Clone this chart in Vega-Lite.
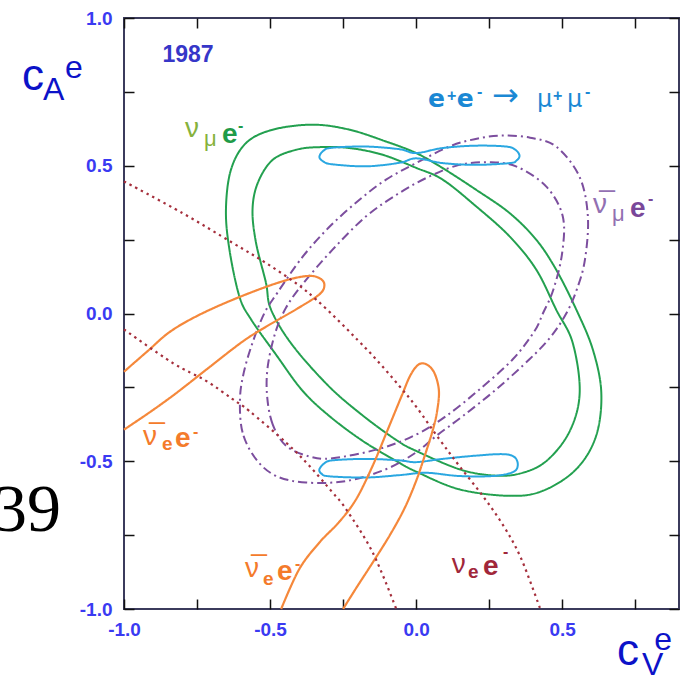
{
  "$schema": "https://vega.github.io/schema/vega-lite/v6.json",
  "width": 555,
  "height": 591,
  "autosize": {"type": "none"},
  "padding": {"left": 124, "top": 18, "right": 11, "bottom": 69},
  "background": "white",
  "config": {"view": {"stroke": "#3b3b5c", "strokeWidth": 2}},
  "resolve": {"axis": {"x": "independent", "y": "independent"}},
  "layer": [
    {
      "mark": {"type": "rule", "color": "#2e2e55", "strokeWidth": 1.6},
      "encoding": {
        "x": {"datum": 0, "type": "quantitative", "scale": {"domain": [-1, 0.9], "nice": false, "zero": false},
          "axis": {"orient": "top", "values": [-1, -0.75, -0.5, -0.25, 0, 0.25, 0.5, 0.75], "labels": false, "domain": false, "grid": false, "ticks": true, "tickSize": -10, "tickWidth": 1.5, "tickColor": "#111111", "title": null}}
      }
    },
    {
      "mark": {"type": "rule", "color": "#2e2e55", "strokeWidth": 1.6},
      "encoding": {
        "y": {"datum": 0, "type": "quantitative", "scale": {"domain": [-1, 1], "nice": false, "zero": false},
          "axis": {"orient": "right", "values": [-1, -0.75, -0.5, -0.25, 0, 0.25, 0.5, 0.75, 1], "labels": false, "domain": false, "grid": false, "ticks": true, "tickSize": -10, "tickWidth": 1.5, "tickColor": "#111111", "title": null}}
      }
    },
    {
      "data": {"values": [
        {"s":"numu","c":"g1","i":0,"x":0,"y":0.543},{"s":"numu","c":"g1","i":1,"x":-0.103,"y":0.582},{"s":"numu","c":"g1","i":2,"x":-0.228,"y":0.622},{"s":"numu","c":"g1","i":3,"x":-0.354,"y":0.639},{"s":"numu","c":"g1","i":4,"x":-0.491,"y":0.622},{"s":"numu","c":"g1","i":5,"x":-0.582,"y":0.577},{"s":"numu","c":"g1","i":6,"x":-0.634,"y":0.486},{"s":"numu","c":"g1","i":7,"x":-0.651,"y":0.351},{"s":"numu","c":"g1","i":8,"x":-0.639,"y":0.216},{"s":"numu","c":"g1","i":9,"x":-0.605,"y":0.058},{"s":"numu","c":"g1","i":10,"x":-0.565,"y":-0.02},{"s":"numu","c":"g1","i":11,"x":-0.479,"y":-0.14},{"s":"numu","c":"g1","i":12,"x":-0.39,"y":-0.26},{"s":"numu","c":"g1","i":13,"x":-0.297,"y":-0.347},{"s":"numu","c":"g1","i":14,"x":-0.183,"y":-0.431},{"s":"numu","c":"g1","i":15,"x":-0.068,"y":-0.499},{"s":"numu","c":"g1","i":16,"x":0,"y":-0.535},{"s":"numu","c":"g1","i":17,"x":0.148,"y":-0.595},{"s":"numu","c":"g1","i":18,"x":0.32,"y":-0.617},{"s":"numu","c":"g1","i":19,"x":0.434,"y":-0.6},{"s":"numu","c":"g1","i":20,"x":0.548,"y":-0.527},{"s":"numu","c":"g1","i":21,"x":0.616,"y":-0.415},{"s":"numu","c":"g1","i":22,"x":0.634,"y":-0.268},{"s":"numu","c":"g1","i":23,"x":0.605,"y":-0.122},{"s":"numu","c":"g1","i":24,"x":0.548,"y":0.014},{"s":"numu","c":"g1","i":25,"x":0.479,"y":0.149},{"s":"numu","c":"g1","i":26,"x":0.411,"y":0.25},{"s":"numu","c":"g1","i":27,"x":0.32,"y":0.34},{"s":"numu","c":"g1","i":28,"x":0.205,"y":0.419},{"s":"numu","c":"g1","i":29,"x":0.091,"y":0.492},
        {"s":"numu","c":"g2","i":0,"x":0,"y":0.493},{"s":"numu","c":"g2","i":1,"x":-0.114,"y":0.537},{"s":"numu","c":"g2","i":2,"x":-0.228,"y":0.56},{"s":"numu","c":"g2","i":3,"x":-0.331,"y":0.563},{"s":"numu","c":"g2","i":4,"x":-0.411,"y":0.554},{"s":"numu","c":"g2","i":5,"x":-0.491,"y":0.52},{"s":"numu","c":"g2","i":6,"x":-0.542,"y":0.442},{"s":"numu","c":"g2","i":7,"x":-0.56,"y":0.351},{"s":"numu","c":"g2","i":8,"x":-0.548,"y":0.239},{"s":"numu","c":"g2","i":9,"x":-0.514,"y":0.104},{"s":"numu","c":"g2","i":10,"x":-0.497,"y":0.014},{"s":"numu","c":"g2","i":11,"x":-0.425,"y":-0.105},{"s":"numu","c":"g2","i":12,"x":-0.3,"y":-0.245},{"s":"numu","c":"g2","i":13,"x":-0.183,"y":-0.345},{"s":"numu","c":"g2","i":14,"x":-0.068,"y":-0.428},{"s":"numu","c":"g2","i":15,"x":0,"y":-0.465},{"s":"numu","c":"g2","i":16,"x":0.148,"y":-0.527},{"s":"numu","c":"g2","i":17,"x":0.262,"y":-0.548},{"s":"numu","c":"g2","i":18,"x":0.354,"y":-0.542},{"s":"numu","c":"g2","i":19,"x":0.445,"y":-0.5},{"s":"numu","c":"g2","i":20,"x":0.525,"y":-0.4},{"s":"numu","c":"g2","i":21,"x":0.56,"y":-0.268},{"s":"numu","c":"g2","i":22,"x":0.536,"y":-0.099},{"s":"numu","c":"g2","i":23,"x":0.479,"y":0.014},{"s":"numu","c":"g2","i":24,"x":0.411,"y":0.149},{"s":"numu","c":"g2","i":25,"x":0.32,"y":0.261},{"s":"numu","c":"g2","i":26,"x":0.205,"y":0.363},{"s":"numu","c":"g2","i":27,"x":0.091,"y":0.453},
        {"s":"numubar","c":"p1","i":0,"x":-0.548,"y":-0.493},{"s":"numubar","c":"p1","i":1,"x":-0.594,"y":-0.403},{"s":"numubar","c":"p1","i":2,"x":-0.603,"y":-0.291},{"s":"numubar","c":"p1","i":3,"x":-0.59,"y":-0.2},{"s":"numubar","c":"p1","i":4,"x":-0.56,"y":-0.099},{"s":"numubar","c":"p1","i":5,"x":-0.52,"y":0},{"s":"numubar","c":"p1","i":6,"x":-0.475,"y":0.07},{"s":"numubar","c":"p1","i":7,"x":-0.39,"y":0.19},{"s":"numubar","c":"p1","i":8,"x":-0.3,"y":0.29},{"s":"numubar","c":"p1","i":9,"x":-0.2,"y":0.38},{"s":"numubar","c":"p1","i":10,"x":-0.103,"y":0.453},{"s":"numubar","c":"p1","i":11,"x":0,"y":0.509},{"s":"numubar","c":"p1","i":12,"x":0.114,"y":0.565},{"s":"numubar","c":"p1","i":13,"x":0.2,"y":0.59},{"s":"numubar","c":"p1","i":14,"x":0.29,"y":0.602},{"s":"numubar","c":"p1","i":15,"x":0.39,"y":0.595},{"s":"numubar","c":"p1","i":16,"x":0.479,"y":0.565},{"s":"numubar","c":"p1","i":17,"x":0.559,"y":0.464},{"s":"numubar","c":"p1","i":18,"x":0.588,"y":0.329},{"s":"numubar","c":"p1","i":19,"x":0.578,"y":0.182},{"s":"numubar","c":"p1","i":20,"x":0.55,"y":0.081},{"s":"numubar","c":"p1","i":21,"x":0.514,"y":0},{"s":"numubar","c":"p1","i":22,"x":0.46,"y":-0.08},{"s":"numubar","c":"p1","i":23,"x":0.388,"y":-0.155},{"s":"numubar","c":"p1","i":24,"x":0.274,"y":-0.257},{"s":"numubar","c":"p1","i":25,"x":0.16,"y":-0.347},{"s":"numubar","c":"p1","i":26,"x":0.068,"y":-0.415},{"s":"numubar","c":"p1","i":27,"x":0,"y":-0.47},{"s":"numubar","c":"p1","i":28,"x":-0.103,"y":-0.527},{"s":"numubar","c":"p1","i":29,"x":-0.24,"y":-0.567},{"s":"numubar","c":"p1","i":30,"x":-0.377,"y":-0.572},{"s":"numubar","c":"p1","i":31,"x":-0.479,"y":-0.55},
        {"s":"numubar","c":"p2","i":0,"x":-0.445,"y":-0.448},{"s":"numubar","c":"p2","i":1,"x":-0.491,"y":-0.375},{"s":"numubar","c":"p2","i":2,"x":-0.51,"y":-0.28},{"s":"numubar","c":"p2","i":3,"x":-0.508,"y":-0.18},{"s":"numubar","c":"p2","i":4,"x":-0.482,"y":-0.065},{"s":"numubar","c":"p2","i":5,"x":-0.445,"y":0.02},{"s":"numubar","c":"p2","i":6,"x":-0.388,"y":0.1},{"s":"numubar","c":"p2","i":7,"x":-0.286,"y":0.216},{"s":"numubar","c":"p2","i":8,"x":-0.171,"y":0.329},{"s":"numubar","c":"p2","i":9,"x":-0.057,"y":0.408},{"s":"numubar","c":"p2","i":10,"x":0.046,"y":0.464},{"s":"numubar","c":"p2","i":11,"x":0.148,"y":0.503},{"s":"numubar","c":"p2","i":12,"x":0.25,"y":0.512},{"s":"numubar","c":"p2","i":13,"x":0.342,"y":0.498},{"s":"numubar","c":"p2","i":14,"x":0.445,"y":0.43},{"s":"numubar","c":"p2","i":15,"x":0.502,"y":0.329},{"s":"numubar","c":"p2","i":16,"x":0.5,"y":0.205},{"s":"numubar","c":"p2","i":17,"x":0.47,"y":0.081},{"s":"numubar","c":"p2","i":18,"x":0.434,"y":0},{"s":"numubar","c":"p2","i":19,"x":0.405,"y":-0.06},{"s":"numubar","c":"p2","i":20,"x":0.331,"y":-0.155},{"s":"numubar","c":"p2","i":21,"x":0.217,"y":-0.257},{"s":"numubar","c":"p2","i":22,"x":0.103,"y":-0.347},{"s":"numubar","c":"p2","i":23,"x":0,"y":-0.41},{"s":"numubar","c":"p2","i":24,"x":-0.126,"y":-0.458},{"s":"numubar","c":"p2","i":25,"x":-0.286,"y":-0.49},{"s":"numubar","c":"p2","i":26,"x":-0.365,"y":-0.484},
        {"s":"ee","c":"b1","i":0,"x":-0.331,"y":0.53},{"s":"ee","c":"b1","i":1,"x":-0.317,"y":0.551},{"s":"ee","c":"b1","i":2,"x":-0.287,"y":0.561},{"s":"ee","c":"b1","i":3,"x":-0.171,"y":0.565},{"s":"ee","c":"b1","i":4,"x":-0.057,"y":0.556},{"s":"ee","c":"b1","i":5,"x":0,"y":0.543},{"s":"ee","c":"b1","i":6,"x":0.091,"y":0.56},{"s":"ee","c":"b1","i":7,"x":0.205,"y":0.568},{"s":"ee","c":"b1","i":8,"x":0.308,"y":0.565},{"s":"ee","c":"b1","i":9,"x":0.34,"y":0.554},{"s":"ee","c":"b1","i":10,"x":0.354,"y":0.534},{"s":"ee","c":"b1","i":11,"x":0.343,"y":0.517},{"s":"ee","c":"b1","i":12,"x":0.32,"y":0.509},{"s":"ee","c":"b1","i":13,"x":0.205,"y":0.503},{"s":"ee","c":"b1","i":14,"x":0.091,"y":0.509},{"s":"ee","c":"b1","i":15,"x":0,"y":0.525},{"s":"ee","c":"b1","i":16,"x":-0.057,"y":0.51},{"s":"ee","c":"b1","i":17,"x":-0.171,"y":0.498},{"s":"ee","c":"b1","i":18,"x":-0.287,"y":0.505},{"s":"ee","c":"b1","i":19,"x":-0.317,"y":0.514},
        {"s":"ee","c":"b2","i":0,"x":-0.331,"y":-0.527},{"s":"ee","c":"b2","i":1,"x":-0.314,"y":-0.507},{"s":"ee","c":"b2","i":2,"x":-0.286,"y":-0.497},{"s":"ee","c":"b2","i":3,"x":-0.171,"y":-0.492},{"s":"ee","c":"b2","i":4,"x":-0.057,"y":-0.497},{"s":"ee","c":"b2","i":5,"x":0,"y":-0.503},{"s":"ee","c":"b2","i":6,"x":0.091,"y":-0.492},{"s":"ee","c":"b2","i":7,"x":0.205,"y":-0.481},{"s":"ee","c":"b2","i":8,"x":0.297,"y":-0.476},{"s":"ee","c":"b2","i":9,"x":0.337,"y":-0.486},{"s":"ee","c":"b2","i":10,"x":0.348,"y":-0.514},{"s":"ee","c":"b2","i":11,"x":0.331,"y":-0.537},{"s":"ee","c":"b2","i":12,"x":0.262,"y":-0.55},{"s":"ee","c":"b2","i":13,"x":0.148,"y":-0.55},{"s":"ee","c":"b2","i":14,"x":0.034,"y":-0.539},{"s":"ee","c":"b2","i":15,"x":-0.057,"y":-0.547},{"s":"ee","c":"b2","i":16,"x":-0.171,"y":-0.555},{"s":"ee","c":"b2","i":17,"x":-0.297,"y":-0.551},{"s":"ee","c":"b2","i":18,"x":-0.324,"y":-0.542}
      ]},
      "mark": {"type": "line", "interpolate": "cardinal-closed", "strokeWidth": 2},
      "encoding": {
        "x": {"field": "x", "type": "quantitative", "scale": {"domain": [-1, 0.9], "nice": false, "zero": false},
          "axis": {"orient": "bottom", "values": [-1, -0.75, -0.5, -0.25, 0, 0.25, 0.5, 0.75], "labelExpr": "datum.value == -1 ? '-1.0' : datum.value == -0.5 ? '-0.5' : datum.value == 0 ? '0.0' : datum.value == 0.5 ? '0.5' : datum.value == 1 ? '1.0' : ''", "domain": false, "grid": false, "ticks": true, "tickSize": -10, "tickWidth": 1.5, "tickColor": "#111111", "labelPadding": 21, "labelFont": "Liberation Sans", "labelFontSize": 19, "labelFontWeight": "bold", "labelColor": "#3a3af2", "labelFlush": false, "labelOverlap": false, "title": null}},
        "y": {"field": "y", "type": "quantitative", "scale": {"domain": [-1, 1], "nice": false, "zero": false},
          "axis": {"orient": "left", "values": [-1, -0.75, -0.5, -0.25, 0, 0.25, 0.5, 0.75, 1], "labelExpr": "datum.value == -1 ? '-1.0' : datum.value == -0.5 ? '-0.5' : datum.value == 0 ? '0.0' : datum.value == 0.5 ? '0.5' : datum.value == 1 ? '1.0' : ''", "domain": false, "grid": false, "ticks": true, "tickSize": -10, "tickWidth": 1.5, "tickColor": "#111111", "labelPadding": 22, "labelFont": "Liberation Sans", "labelFontSize": 19, "labelFontWeight": "bold", "labelColor": "#3a3af2", "labelFlush": false, "labelOverlap": false, "title": null}},
        "color": {"field": "s", "type": "nominal", "legend": null,
          "scale": {"domain": ["numu","numubar","ee","nuebar","nue","t_numu","t_numu_g","t_numubar","t_numubar_g","t_nuebar","t_nue","t_ee","t_year","t_axis","t_page"],
                    "range": ["#23a04f","#7c4e9e","#2aa7e1","#f5883b","#a52f3c","#1f9b49","#86b23c","#794799","#9270b2","#f47b2b","#a1273a","#1b88d4","#3636c8","#0c12c8","#000000"]}},
        "strokeDash": {"field": "s", "type": "nominal", "legend": null,
          "scale": {"domain": ["numu","numubar","ee","nuebar","nue"], "range": [[1,0],[9,4,2,4],[1,0],[1,0],[2.4,4]]}},
        "detail": {"field": "c"},
        "order": {"field": "i", "type": "quantitative"}
      }
    },
    {
      "data": {"values": [
        {"s":"nuebar","c":"o1","i":0,"x":-1,"y":-0.197},{"s":"nuebar","c":"o1","i":1,"x":-0.92,"y":-0.128},{"s":"nuebar","c":"o1","i":2,"x":-0.84,"y":-0.06},{"s":"nuebar","c":"o1","i":3,"x":-0.733,"y":0},{"s":"nuebar","c":"o1","i":4,"x":-0.594,"y":0.06},{"s":"nuebar","c":"o1","i":5,"x":-0.457,"y":0.109},{"s":"nuebar","c":"o1","i":6,"x":-0.37,"y":0.127},{"s":"nuebar","c":"o1","i":7,"x":-0.328,"y":0.118},{"s":"nuebar","c":"o1","i":8,"x":-0.314,"y":0.095},{"s":"nuebar","c":"o1","i":9,"x":-0.332,"y":0.064},{"s":"nuebar","c":"o1","i":10,"x":-0.411,"y":0.014},{"s":"nuebar","c":"o1","i":11,"x":-0.514,"y":-0.045},{"s":"nuebar","c":"o1","i":12,"x":-0.594,"y":-0.095},{"s":"nuebar","c":"o1","i":13,"x":-0.708,"y":-0.182},{"s":"nuebar","c":"o1","i":14,"x":-0.822,"y":-0.27},{"s":"nuebar","c":"o1","i":15,"x":-0.91,"y":-0.333},{"s":"nuebar","c":"o1","i":16,"x":-1,"y":-0.393},
        {"s":"nuebar","c":"o2","i":0,"x":-0.462,"y":-1},{"s":"nuebar","c":"o2","i":1,"x":-0.4,"y":-0.865},{"s":"nuebar","c":"o2","i":2,"x":-0.331,"y":-0.775},{"s":"nuebar","c":"o2","i":3,"x":-0.263,"y":-0.705},{"s":"nuebar","c":"o2","i":4,"x":-0.205,"y":-0.628},{"s":"nuebar","c":"o2","i":5,"x":-0.149,"y":-0.516},{"s":"nuebar","c":"o2","i":6,"x":-0.1,"y":-0.4},{"s":"nuebar","c":"o2","i":7,"x":-0.05,"y":-0.28},{"s":"nuebar","c":"o2","i":8,"x":-0.02,"y":-0.21},{"s":"nuebar","c":"o2","i":9,"x":0.008,"y":-0.173},{"s":"nuebar","c":"o2","i":10,"x":0.035,"y":-0.172},{"s":"nuebar","c":"o2","i":11,"x":0.062,"y":-0.2},{"s":"nuebar","c":"o2","i":12,"x":0.078,"y":-0.26},{"s":"nuebar","c":"o2","i":13,"x":0.072,"y":-0.33},{"s":"nuebar","c":"o2","i":14,"x":0.057,"y":-0.395},{"s":"nuebar","c":"o2","i":15,"x":0.03,"y":-0.48},{"s":"nuebar","c":"o2","i":16,"x":0,"y":-0.567},{"s":"nuebar","c":"o2","i":17,"x":-0.04,"y":-0.66},{"s":"nuebar","c":"o2","i":18,"x":-0.091,"y":-0.752},{"s":"nuebar","c":"o2","i":19,"x":-0.15,"y":-0.845},{"s":"nuebar","c":"o2","i":20,"x":-0.205,"y":-0.929},{"s":"nuebar","c":"o2","i":21,"x":-0.25,"y":-1},
        {"s":"nue","c":"r1","i":0,"x":-1,"y":0.447},{"s":"nue","c":"r1","i":1,"x":-0.8,"y":0.34},{"s":"nue","c":"r1","i":2,"x":-0.628,"y":0.239},{"s":"nue","c":"r1","i":3,"x":-0.514,"y":0.171},{"s":"nue","c":"r1","i":4,"x":-0.405,"y":0.098},{"s":"nue","c":"r1","i":5,"x":-0.342,"y":0.047},{"s":"nue","c":"r1","i":6,"x":-0.27,"y":-0.02},{"s":"nue","c":"r1","i":7,"x":-0.2,"y":-0.09},{"s":"nue","c":"r1","i":8,"x":-0.137,"y":-0.155},{"s":"nue","c":"r1","i":9,"x":-0.057,"y":-0.246},{"s":"nue","c":"r1","i":10,"x":0,"y":-0.315},{"s":"nue","c":"r1","i":11,"x":0.08,"y":-0.426},{"s":"nue","c":"r1","i":12,"x":0.148,"y":-0.516},{"s":"nue","c":"r1","i":13,"x":0.228,"y":-0.617},{"s":"nue","c":"r1","i":14,"x":0.3,"y":-0.72},{"s":"nue","c":"r1","i":15,"x":0.36,"y":-0.83},{"s":"nue","c":"r1","i":16,"x":0.425,"y":-1},
        {"s":"nue","c":"r2","i":0,"x":-1,"y":-0.054},{"s":"nue","c":"r2","i":1,"x":-0.834,"y":-0.167},{"s":"nue","c":"r2","i":2,"x":-0.719,"y":-0.228},{"s":"nue","c":"r2","i":3,"x":-0.628,"y":-0.29},{"s":"nue","c":"r2","i":4,"x":-0.571,"y":-0.33},{"s":"nue","c":"r2","i":5,"x":-0.445,"y":-0.437},{"s":"nue","c":"r2","i":6,"x":-0.365,"y":-0.516},{"s":"nue","c":"r2","i":7,"x":-0.286,"y":-0.606},{"s":"nue","c":"r2","i":8,"x":-0.24,"y":-0.662},{"s":"nue","c":"r2","i":9,"x":-0.149,"y":-0.808},{"s":"nue","c":"r2","i":10,"x":-0.068,"y":-1}
      ]},
      "mark": {"type": "line", "interpolate": "cardinal", "strokeWidth": 2.2},
      "encoding": {
        "x": {"field": "x", "type": "quantitative", "scale": {"domain": [-1, 0.9], "nice": false, "zero": false}, "axis": null},
        "y": {"field": "y", "type": "quantitative", "scale": {"domain": [-1, 1], "nice": false, "zero": false}, "axis": null},
        "color": {"field": "s", "type": "nominal", "legend": null,
          "scale": {"domain": ["numu","numubar","ee","nuebar","nue","t_numu","t_numu_g","t_numubar","t_numubar_g","t_nuebar","t_nue","t_ee","t_year","t_axis","t_page"],
                    "range": ["#23a04f","#7c4e9e","#2aa7e1","#f5883b","#a52f3c","#1f9b49","#86b23c","#794799","#9270b2","#f47b2b","#a1273a","#1b88d4","#3636c8","#0c12c8","#000000"]}},
        "strokeDash": {"field": "s", "type": "nominal", "legend": null,
          "scale": {"domain": ["numu","numubar","ee","nuebar","nue"], "range": [[1,0],[9,4,2,4],[1,0],[1,0],[2.4,4]]}},
        "detail": {"field": "c"},
        "order": {"field": "i", "type": "quantitative"}
      }
    },
    {
      "data": {"values": [
        {"t":"c","x":-1.3492,"y":0.7563,"k":"t_axis"},
        {"t":"c","x":0.6878,"y":-1.1895,"k":"t_axis"}
      ]},
      "mark": {"type": "text", "font": "Liberation Sans", "fontSize": 44, "align": "left", "baseline": "alphabetic"},
      "encoding": {
        "x": {"field": "x", "type": "quantitative", "scale": {"domain": [-1, 0.9], "nice": false, "zero": false}, "axis": null},
        "y": {"field": "y", "type": "quantitative", "scale": {"domain": [-1, 1], "nice": false, "zero": false}, "axis": null},
        "text": {"field": "t"},
        "color": {"field": "k", "type": "nominal", "legend": null,
          "scale": {"domain": ["numu","numubar","ee","nuebar","nue","t_numu","t_numu_g","t_numubar","t_numubar_g","t_nuebar","t_nue","t_ee","t_year","t_axis","t_page"],
                    "range": ["#23a04f","#7c4e9e","#2aa7e1","#f5883b","#a52f3c","#1f9b49","#86b23c","#794799","#9270b2","#f47b2b","#a1273a","#1b88d4","#3636c8","#0c12c8","#000000"]}}
      }
    },
    {
      "data": {"values": [
        {"t":"A","x":-1.2773,"y":0.7225,"k":"t_axis"},
        {"t":"e","x":-1.202,"y":0.797,"k":"t_axis"},
        {"t":"V","x":0.7734,"y":-1.2234,"k":"t_axis"},
        {"t":"e","x":0.815,"y":-1.1388,"k":"t_axis"}
      ]},
      "mark": {"type": "text", "font": "Liberation Sans", "fontSize": 32, "align": "left", "baseline": "alphabetic"},
      "encoding": {
        "x": {"field": "x", "type": "quantitative", "scale": {"domain": [-1, 0.9], "nice": false, "zero": false}, "axis": null},
        "y": {"field": "y", "type": "quantitative", "scale": {"domain": [-1, 1], "nice": false, "zero": false}, "axis": null},
        "text": {"field": "t"},
        "color": {"field": "k", "type": "nominal", "legend": null,
          "scale": {"domain": ["numu","numubar","ee","nuebar","nue","t_numu","t_numu_g","t_numubar","t_numubar_g","t_nuebar","t_nue","t_ee","t_year","t_axis","t_page"],
                    "range": ["#23a04f","#7c4e9e","#2aa7e1","#f5883b","#a52f3c","#1f9b49","#86b23c","#794799","#9270b2","#f47b2b","#a1273a","#1b88d4","#3636c8","#0c12c8","#000000"]}}
      }
    },
    {
      "data": {"values": [
        {"t":"\u03bd","x":-0.7912,"y":0.5973,"k":"t_numu_g"},
        {"t":"\u03bd\u0305","x":0.6057,"y":0.3401,"k":"t_numubar_g"},
        {"t":"\u03bd\u0305","x":-0.9346,"y":-0.445,"k":"t_nuebar"},
        {"t":"\u03bd\u0305","x":-0.5858,"y":-0.8917,"k":"t_nuebar"},
        {"t":"\u03bd","x":0.1219,"y":-0.8782,"k":"t_nue"}
      ]},
      "mark": {"type": "text", "font": "Liberation Sans", "fontSize": 28, "align": "left", "baseline": "alphabetic"},
      "encoding": {
        "x": {"field": "x", "type": "quantitative", "scale": {"domain": [-1, 0.9], "nice": false, "zero": false}, "axis": null},
        "y": {"field": "y", "type": "quantitative", "scale": {"domain": [-1, 1], "nice": false, "zero": false}, "axis": null},
        "text": {"field": "t"},
        "color": {"field": "k", "type": "nominal", "legend": null,
          "scale": {"domain": ["numu","numubar","ee","nuebar","nue","t_numu","t_numu_g","t_numubar","t_numubar_g","t_nuebar","t_nue","t_ee","t_year","t_axis","t_page"],
                    "range": ["#23a04f","#7c4e9e","#2aa7e1","#f5883b","#a52f3c","#1f9b49","#86b23c","#794799","#9270b2","#f47b2b","#a1273a","#1b88d4","#3636c8","#0c12c8","#000000"]}}
      }
    },
    {
      "data": {"values": [
        {"t":"\u03bc","x":-0.7264,"y":0.5668,"k":"t_numu_g"},
        {"t":"\u03bc","x":0.6707,"y":0.313,"k":"t_numubar_g"}
      ]},
      "mark": {"type": "text", "font": "Liberation Sans", "fontSize": 22, "align": "left", "baseline": "alphabetic"},
      "encoding": {
        "x": {"field": "x", "type": "quantitative", "scale": {"domain": [-1, 0.9], "nice": false, "zero": false}, "axis": null},
        "y": {"field": "y", "type": "quantitative", "scale": {"domain": [-1, 1], "nice": false, "zero": false}, "axis": null},
        "text": {"field": "t"},
        "color": {"field": "k", "type": "nominal", "legend": null,
          "scale": {"domain": ["numu","numubar","ee","nuebar","nue","t_numu","t_numu_g","t_numubar","t_numubar_g","t_nuebar","t_nue","t_ee","t_year","t_axis","t_page"],
                    "range": ["#23a04f","#7c4e9e","#2aa7e1","#f5883b","#a52f3c","#1f9b49","#86b23c","#794799","#9270b2","#f47b2b","#a1273a","#1b88d4","#3636c8","#0c12c8","#000000"]}}
      }
    },
    {
      "data": {"values": [
        {"t":"e","x":-0.8699,"y":-0.4619,"k":"t_nuebar"},
        {"t":"e","x":-0.5241,"y":-0.9188,"k":"t_nuebar"},
        {"t":"e","x":0.1777,"y":-0.8951,"k":"t_nue"}
      ]},
      "mark": {"type": "text", "font": "Liberation Sans", "fontSize": 19, "fontWeight": "bold", "align": "left", "baseline": "alphabetic"},
      "encoding": {
        "x": {"field": "x", "type": "quantitative", "scale": {"domain": [-1, 0.9], "nice": false, "zero": false}, "axis": null},
        "y": {"field": "y", "type": "quantitative", "scale": {"domain": [-1, 1], "nice": false, "zero": false}, "axis": null},
        "text": {"field": "t"},
        "color": {"field": "k", "type": "nominal", "legend": null,
          "scale": {"domain": ["numu","numubar","ee","nuebar","nue","t_numu","t_numu_g","t_numubar","t_numubar_g","t_nuebar","t_nue","t_ee","t_year","t_axis","t_page"],
                    "range": ["#23a04f","#7c4e9e","#2aa7e1","#f5883b","#a52f3c","#1f9b49","#86b23c","#794799","#9270b2","#f47b2b","#a1273a","#1b88d4","#3636c8","#0c12c8","#000000"]}}
      }
    },
    {
      "data": {"values": [
        {"t":"e","x":-0.6648,"y":0.577,"k":"t_numu"},
        {"t":"e","x":0.7323,"y":0.3266,"k":"t_numubar"},
        {"t":"e","x":-0.8254,"y":-0.4518,"k":"t_nuebar"},
        {"t":"e","x":-0.4762,"y":-0.9019,"k":"t_nuebar"},
        {"t":"e","x":0.229,"y":-0.8849,"k":"t_nue"}
      ]},
      "mark": {"type": "text", "font": "Liberation Sans", "fontSize": 28, "fontWeight": "bold", "align": "left", "baseline": "alphabetic"},
      "encoding": {
        "x": {"field": "x", "type": "quantitative", "scale": {"domain": [-1, 0.9], "nice": false, "zero": false}, "axis": null},
        "y": {"field": "y", "type": "quantitative", "scale": {"domain": [-1, 1], "nice": false, "zero": false}, "axis": null},
        "text": {"field": "t"},
        "color": {"field": "k", "type": "nominal", "legend": null,
          "scale": {"domain": ["numu","numubar","ee","nuebar","nue","t_numu","t_numu_g","t_numubar","t_numubar_g","t_nuebar","t_nue","t_ee","t_year","t_axis","t_page"],
                    "range": ["#23a04f","#7c4e9e","#2aa7e1","#f5883b","#a52f3c","#1f9b49","#86b23c","#794799","#9270b2","#f47b2b","#a1273a","#1b88d4","#3636c8","#0c12c8","#000000"]}}
      }
    },
    {
      "data": {"values": [
        {"t":"-","x":-0.61,"y":0.6176,"k":"t_numu"},
        {"t":"-","x":0.7939,"y":0.3706,"k":"t_numubar"},
        {"t":"-","x":-0.7638,"y":-0.4196,"k":"t_nuebar"},
        {"t":"-","x":-0.4146,"y":-0.8663,"k":"t_nuebar"},
        {"t":"-","x":0.2975,"y":-0.8257,"k":"t_nue"},
        {"t":"+","x":0.1061,"y":0.7208,"k":"t_ee"},
        {"t":"-","x":0.2088,"y":0.7327,"k":"t_ee"},
        {"t":"+","x":0.4687,"y":0.7208,"k":"t_ee"},
        {"t":"-","x":0.5782,"y":0.7327,"k":"t_ee"}
      ]},
      "mark": {"type": "text", "font": "Liberation Sans", "fontSize": 16, "fontWeight": "bold", "align": "left", "baseline": "alphabetic"},
      "encoding": {
        "x": {"field": "x", "type": "quantitative", "scale": {"domain": [-1, 0.9], "nice": false, "zero": false}, "axis": null},
        "y": {"field": "y", "type": "quantitative", "scale": {"domain": [-1, 1], "nice": false, "zero": false}, "axis": null},
        "text": {"field": "t"},
        "color": {"field": "k", "type": "nominal", "legend": null,
          "scale": {"domain": ["numu","numubar","ee","nuebar","nue","t_numu","t_numu_g","t_numubar","t_numubar_g","t_nuebar","t_nue","t_ee","t_year","t_axis","t_page"],
                    "range": ["#23a04f","#7c4e9e","#2aa7e1","#f5883b","#a52f3c","#1f9b49","#86b23c","#794799","#9270b2","#f47b2b","#a1273a","#1b88d4","#3636c8","#0c12c8","#000000"]}}
      }
    },
    {
      "data": {"values": [
        {"t":"e","x":0.0407,"y":0.6988,"k":"t_ee"},
        {"t":"e","x":0.1393,"y":0.6988,"k":"t_ee"}
      ]},
      "mark": {"type": "text", "font": "DejaVu Sans", "fontSize": 25, "fontWeight": "bold", "align": "left", "baseline": "alphabetic"},
      "encoding": {
        "x": {"field": "x", "type": "quantitative", "scale": {"domain": [-1, 0.9], "nice": false, "zero": false}, "axis": null},
        "y": {"field": "y", "type": "quantitative", "scale": {"domain": [-1, 1], "nice": false, "zero": false}, "axis": null},
        "text": {"field": "t"},
        "color": {"field": "k", "type": "nominal", "legend": null,
          "scale": {"domain": ["numu","numubar","ee","nuebar","nue","t_numu","t_numu_g","t_numubar","t_numubar_g","t_nuebar","t_nue","t_ee","t_year","t_axis","t_page"],
                    "range": ["#23a04f","#7c4e9e","#2aa7e1","#f5883b","#a52f3c","#1f9b49","#86b23c","#794799","#9270b2","#f47b2b","#a1273a","#1b88d4","#3636c8","#0c12c8","#000000"]}}
      }
    },
    {
      "data": {"values": [
        {"t":"\u03bc","x":0.4139,"y":0.6988,"k":"t_ee"},
        {"t":"\u03bc","x":0.5166,"y":0.6988,"k":"t_ee"}
      ]},
      "mark": {"type": "text", "font": "DejaVu Sans", "fontSize": 24, "align": "left", "baseline": "alphabetic"},
      "encoding": {
        "x": {"field": "x", "type": "quantitative", "scale": {"domain": [-1, 0.9], "nice": false, "zero": false}, "axis": null},
        "y": {"field": "y", "type": "quantitative", "scale": {"domain": [-1, 1], "nice": false, "zero": false}, "axis": null},
        "text": {"field": "t"},
        "color": {"field": "k", "type": "nominal", "legend": null,
          "scale": {"domain": ["numu","numubar","ee","nuebar","nue","t_numu","t_numu_g","t_numubar","t_numubar_g","t_nuebar","t_nue","t_ee","t_year","t_axis","t_page"],
                    "range": ["#23a04f","#7c4e9e","#2aa7e1","#f5883b","#a52f3c","#1f9b49","#86b23c","#794799","#9270b2","#f47b2b","#a1273a","#1b88d4","#3636c8","#0c12c8","#000000"]}}
      }
    },
    {
      "data": {"values": [
        {"t":"\u2192","x":0.2598,"y":0.7022,"k":"t_ee"}
      ]},
      "mark": {"type": "text", "font": "DejaVu Sans", "fontSize": 32, "align": "left", "baseline": "alphabetic"},
      "encoding": {
        "x": {"field": "x", "type": "quantitative", "scale": {"domain": [-1, 0.9], "nice": false, "zero": false}, "axis": null},
        "y": {"field": "y", "type": "quantitative", "scale": {"domain": [-1, 1], "nice": false, "zero": false}, "axis": null},
        "text": {"field": "t"},
        "color": {"field": "k", "type": "nominal", "legend": null,
          "scale": {"domain": ["numu","numubar","ee","nuebar","nue","t_numu","t_numu_g","t_numubar","t_numubar_g","t_nuebar","t_nue","t_ee","t_year","t_axis","t_page"],
                    "range": ["#23a04f","#7c4e9e","#2aa7e1","#f5883b","#a52f3c","#1f9b49","#86b23c","#794799","#9270b2","#f47b2b","#a1273a","#1b88d4","#3636c8","#0c12c8","#000000"]}}
      }
    },
    {
      "data": {"values": [
        {"t":"1987","x":-0.7809,"y":0.8511,"k":"t_year"}
      ]},
      "mark": {"type": "text", "font": "Liberation Sans", "fontSize": 23, "fontWeight": "bold", "align": "center", "baseline": "alphabetic"},
      "encoding": {
        "x": {"field": "x", "type": "quantitative", "scale": {"domain": [-1, 0.9], "nice": false, "zero": false}, "axis": null},
        "y": {"field": "y", "type": "quantitative", "scale": {"domain": [-1, 1], "nice": false, "zero": false}, "axis": null},
        "text": {"field": "t"},
        "color": {"field": "k", "type": "nominal", "legend": null,
          "scale": {"domain": ["numu","numubar","ee","nuebar","nue","t_numu","t_numu_g","t_numubar","t_numubar_g","t_nuebar","t_nue","t_ee","t_year","t_axis","t_page"],
                    "range": ["#23a04f","#7c4e9e","#2aa7e1","#f5883b","#a52f3c","#1f9b49","#86b23c","#794799","#9270b2","#f47b2b","#a1273a","#1b88d4","#3636c8","#0c12c8","#000000"]}}
      }
    },
    {
      "data": {"values": [
        {"t":"39","x":-1.2157,"y":-0.736,"k":"t_page"}
      ]},
      "mark": {"type": "text", "font": "Liberation Serif", "fontSize": 68, "align": "right", "baseline": "alphabetic"},
      "encoding": {
        "x": {"field": "x", "type": "quantitative", "scale": {"domain": [-1, 0.9], "nice": false, "zero": false}, "axis": null},
        "y": {"field": "y", "type": "quantitative", "scale": {"domain": [-1, 1], "nice": false, "zero": false}, "axis": null},
        "text": {"field": "t"},
        "color": {"field": "k", "type": "nominal", "legend": null,
          "scale": {"domain": ["numu","numubar","ee","nuebar","nue","t_numu","t_numu_g","t_numubar","t_numubar_g","t_nuebar","t_nue","t_ee","t_year","t_axis","t_page"],
                    "range": ["#23a04f","#7c4e9e","#2aa7e1","#f5883b","#a52f3c","#1f9b49","#86b23c","#794799","#9270b2","#f47b2b","#a1273a","#1b88d4","#3636c8","#0c12c8","#000000"]}}
      }
    }
  ]
}
